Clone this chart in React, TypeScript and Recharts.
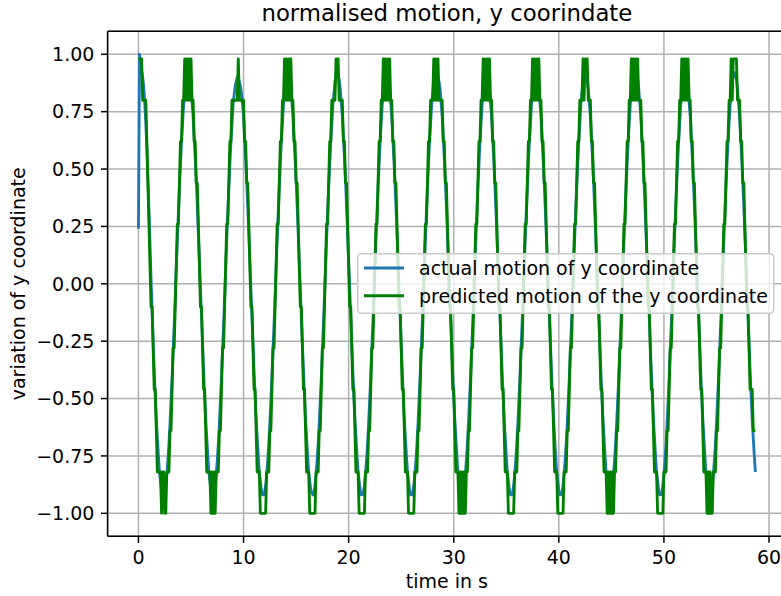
import React from "react";
import {
  LineChart,
  Line,
  XAxis,
  YAxis,
  CartesianGrid,
  Legend,
  ReferenceLine,
  Label,
} from "recharts";

const FONT = "'DejaVu Sans', 'Liberation Sans', sans-serif";

// one sample every 0.1 s, t = 0 ... 58.7 s
const SAMPLE_STEP = 0.1;

// actual (normalised) y coordinate, one line per oscillation
const ACTUAL_Y = [
  0.24, 1.0, 0.97, 0.93, 0.9, 0.86, 0.79, 0.7, 0.59, 0.46, 0.32, 0.17, 0.02, -0.12, -0.25, -0.38, -0.49, -0.59, -0.67, -0.75, -0.82,
  -0.86, -0.9, -0.92, -0.92, -0.91, -0.88, -0.83, -0.77, -0.7, -0.61, -0.51, -0.41, -0.29, -0.18, -0.06, 0.07, 0.19, 0.31, 0.42, 0.52, 0.62, 0.7, 0.78, 0.83, 0.88, 0.91,
  0.92, 0.91, 0.89, 0.85, 0.79, 0.73, 0.64, 0.55, 0.45, 0.34, 0.22, 0.1, -0.02, -0.14, -0.26, -0.38, -0.49, -0.59, -0.67, -0.75, -0.82,
  -0.86, -0.9, -0.92, -0.93, -0.91, -0.88, -0.83, -0.77, -0.7, -0.61, -0.51, -0.41, -0.29, -0.18, -0.06, 0.07, 0.19, 0.31, 0.42, 0.52, 0.62, 0.7, 0.78, 0.82, 0.86, 0.88, 0.9,
  0.9, 0.88, 0.86, 0.83, 0.79, 0.73, 0.64, 0.55, 0.45, 0.34, 0.22, 0.1, -0.02, -0.14, -0.26, -0.38, -0.49, -0.59, -0.67, -0.75, -0.82,
  -0.86, -0.9, -0.92, -0.92, -0.91, -0.88, -0.83, -0.77, -0.7, -0.61, -0.51, -0.41, -0.29, -0.18, -0.06, 0.07, 0.19, 0.31, 0.42, 0.52, 0.62, 0.7, 0.78, 0.83, 0.88, 0.91,
  0.92, 0.91, 0.89, 0.85, 0.79, 0.73, 0.64, 0.55, 0.45, 0.34, 0.22, 0.1, -0.02, -0.14, -0.26, -0.38, -0.49, -0.59, -0.67, -0.75, -0.82,
  -0.86, -0.9, -0.91, -0.92, -0.91, -0.88, -0.83, -0.77, -0.7, -0.61, -0.51, -0.41, -0.29, -0.18, -0.06, 0.07, 0.19, 0.31, 0.42, 0.52, 0.62, 0.7, 0.78, 0.83, 0.88, 0.9,
  0.91, 0.91, 0.89, 0.85, 0.79, 0.73, 0.64, 0.55, 0.45, 0.34, 0.22, 0.1, -0.02, -0.14, -0.26, -0.38, -0.49, -0.59, -0.67, -0.75, -0.82,
  -0.86, -0.9, -0.92, -0.92, -0.91, -0.88, -0.83, -0.77, -0.7, -0.61, -0.51, -0.41, -0.29, -0.18, -0.06, 0.07, 0.19, 0.31, 0.42, 0.52, 0.62, 0.7, 0.78, 0.83, 0.88, 0.91,
  0.92, 0.91, 0.89, 0.85, 0.79, 0.73, 0.64, 0.55, 0.45, 0.34, 0.22, 0.1, -0.02, -0.14, -0.26, -0.38, -0.49, -0.59, -0.67, -0.75, -0.82,
  -0.86, -0.9, -0.92, -0.92, -0.91, -0.88, -0.83, -0.77, -0.7, -0.61, -0.51, -0.41, -0.29, -0.18, -0.06, 0.07, 0.19, 0.31, 0.42, 0.52, 0.62, 0.7, 0.78, 0.83, 0.88, 0.91, 0.92,
  0.91, 0.9, 0.88, 0.85, 0.79, 0.73, 0.64, 0.55, 0.45, 0.34, 0.22, 0.1, -0.02, -0.14, -0.26, -0.38, -0.49, -0.59, -0.67, -0.75, -0.82,
  -0.86, -0.9, -0.92, -0.93, -0.91, -0.88, -0.83, -0.77, -0.7, -0.61, -0.51, -0.41, -0.29, -0.18, -0.06, 0.07, 0.19, 0.31, 0.42, 0.52, 0.62, 0.7, 0.78, 0.83, 0.88, 0.91,
  0.92, 0.91, 0.89, 0.85, 0.79, 0.73, 0.64, 0.55, 0.45, 0.34, 0.22, 0.1, -0.02, -0.14, -0.26, -0.38, -0.49, -0.59, -0.67, -0.75, -0.82,
  -0.86, -0.9, -0.92, -0.92, -0.91, -0.88, -0.83, -0.77, -0.7, -0.61, -0.51, -0.41, -0.29, -0.18, -0.06, 0.07, 0.19, 0.31, 0.42, 0.52, 0.62, 0.7, 0.78, 0.83, 0.88, 0.91,
  0.92, 0.91, 0.89, 0.85, 0.79, 0.73, 0.64, 0.55, 0.45, 0.34, 0.22, 0.1, -0.02, -0.14, -0.26, -0.38, -0.49, -0.59, -0.67, -0.75, -0.82,
  -0.86, -0.9, -0.92, -0.92, -0.91, -0.88, -0.83, -0.77, -0.7, -0.61, -0.51, -0.41, -0.29, -0.18, -0.06, 0.07, 0.19, 0.31, 0.42, 0.52, 0.62, 0.7, 0.78, 0.83, 0.88, 0.91,
  0.92, 0.91, 0.89, 0.85, 0.79, 0.73, 0.64, 0.55, 0.45, 0.34, 0.22, 0.1, -0.02, -0.14, -0.26, -0.38, -0.49, -0.59, -0.67, -0.75, -0.82,
  -0.86, -0.9, -0.92, -0.93, -0.91, -0.88, -0.83, -0.77, -0.7, -0.61, -0.51, -0.41, -0.29, -0.18, -0.06, 0.07, 0.19, 0.31, 0.42, 0.52, 0.62, 0.7, 0.78, 0.83, 0.88, 0.91, 0.92,
  0.92, 0.91, 0.89, 0.85, 0.79, 0.73, 0.64, 0.55, 0.45, 0.34, 0.22, 0.1, -0.02, -0.14, -0.26, -0.38, -0.49, -0.59, -0.67, -0.75, -0.82,
  -0.86, -0.9, -0.92, -0.92, -0.91, -0.88, -0.83, -0.77, -0.7, -0.61, -0.51, -0.41, -0.29, -0.18, -0.06, 0.07, 0.19, 0.31, 0.42, 0.52, 0.62, 0.7, 0.78, 0.83, 0.88, 0.91,
  0.92, 0.91, 0.89, 0.85, 0.79, 0.73, 0.64, 0.55, 0.45, 0.34, 0.22, 0.1, -0.02, -0.14, -0.26, -0.38, -0.49, -0.59, -0.67, -0.75, -0.82,
  -0.86, -0.9, -0.92, -0.92, -0.91, -0.88, -0.83, -0.77, -0.7, -0.61, -0.51, -0.41, -0.29, -0.18, -0.06, 0.07, 0.19, 0.31, 0.42, 0.52, 0.62, 0.7, 0.78, 0.83, 0.88, 0.91,
  0.92, 0.91, 0.89, 0.85, 0.79, 0.73, 0.64, 0.55, 0.45, 0.34, 0.22, 0.1, -0.02, -0.14, -0.26, -0.38, -0.49, -0.59, -0.67, -0.75, -0.82,
];

// predicted y coordinate (quantised prediction), same sampling
const PREDICTED_Y = [
  0.98, 0.98, 0.98, 0.98, 0.8, 0.8, 0.8, 0.8, 0.62, 0.44, 0.26, 0.08, -0.1, -0.1, -0.28, -0.46, -0.46, -0.64, -0.82, -0.82, -0.82,
  -0.82, -1.0, -0.82, -0.82, -1.0, -1.0, -0.82, -0.82, -0.82, -0.64, -0.64, -0.46, -0.28, -0.28, -0.1, 0.08, 0.26, 0.26, 0.44, 0.62, 0.62, 0.8, 0.8, 0.98, 0.8, 0.98,
  0.8, 0.98, 0.8, 0.98, 0.8, 0.8, 0.62, 0.62, 0.44, 0.44, 0.26, 0.08, -0.1, -0.1, -0.28, -0.46, -0.46, -0.64, -0.82, -0.82, -0.82,
  -0.82, -1.0, -0.82, -1.0, -0.82, -1.0, -0.82, -0.82, -0.82, -0.64, -0.64, -0.46, -0.28, -0.28, -0.1, 0.08, 0.26, 0.26, 0.44, 0.62, 0.62, 0.8, 0.8, 0.8, 0.8, 0.8, 0.8,
  0.98, 0.8, 0.8, 0.8, 0.8, 0.8, 0.62, 0.62, 0.44, 0.44, 0.26, 0.08, -0.1, -0.1, -0.28, -0.46, -0.46, -0.64, -0.82, -0.82, -0.82,
  -1.0, -1.0, -1.0, -1.0, -1.0, -1.0, -0.82, -0.82, -0.82, -0.64, -0.64, -0.46, -0.28, -0.28, -0.1, 0.08, 0.26, 0.26, 0.44, 0.62, 0.62, 0.8, 0.8, 0.98, 0.8, 0.98,
  0.8, 0.98, 0.8, 0.98, 0.8, 0.8, 0.62, 0.62, 0.44, 0.44, 0.26, 0.08, -0.1, -0.1, -0.28, -0.46, -0.46, -0.64, -0.82, -0.82, -0.82,
  -1.0, -1.0, -1.0, -1.0, -1.0, -1.0, -0.82, -0.82, -0.82, -0.64, -0.64, -0.46, -0.28, -0.28, -0.1, 0.08, 0.26, 0.26, 0.44, 0.62, 0.62, 0.8, 0.8, 0.8, 0.8, 0.98,
  0.98, 0.98, 0.8, 0.8, 0.8, 0.8, 0.62, 0.62, 0.44, 0.44, 0.26, 0.08, -0.1, -0.1, -0.28, -0.46, -0.46, -0.64, -0.82, -0.82, -0.82,
  -1.0, -1.0, -1.0, -1.0, -1.0, -1.0, -0.82, -0.82, -0.82, -0.64, -0.64, -0.46, -0.28, -0.28, -0.1, 0.08, 0.26, 0.26, 0.44, 0.62, 0.62, 0.8, 0.8, 0.98, 0.8, 0.98,
  0.8, 0.98, 0.8, 0.98, 0.8, 0.8, 0.62, 0.62, 0.44, 0.44, 0.26, 0.08, -0.1, -0.1, -0.28, -0.46, -0.46, -0.64, -0.82, -0.82, -0.82,
  -1.0, -1.0, -1.0, -1.0, -1.0, -1.0, -0.82, -0.82, -0.82, -0.64, -0.64, -0.46, -0.28, -0.28, -0.1, 0.08, 0.26, 0.26, 0.44, 0.62, 0.62, 0.8, 0.8, 0.8, 0.98, 0.8, 0.98,
  0.8, 0.98, 0.8, 0.8, 0.8, 0.8, 0.62, 0.62, 0.44, 0.44, 0.26, 0.08, -0.1, -0.1, -0.28, -0.46, -0.46, -0.64, -0.82, -0.82, -0.82,
  -1.0, -0.82, -1.0, -0.82, -1.0, -0.82, -1.0, -0.82, -0.82, -0.64, -0.64, -0.46, -0.28, -0.28, -0.1, 0.08, 0.26, 0.26, 0.44, 0.62, 0.62, 0.8, 0.8, 0.98, 0.8, 0.98,
  0.8, 0.98, 0.8, 0.98, 0.8, 0.8, 0.62, 0.62, 0.44, 0.44, 0.26, 0.08, -0.1, -0.1, -0.28, -0.46, -0.46, -0.64, -0.82, -0.82, -0.82,
  -1.0, -1.0, -1.0, -1.0, -1.0, -1.0, -0.82, -0.82, -0.82, -0.64, -0.64, -0.46, -0.28, -0.28, -0.1, 0.08, 0.26, 0.26, 0.44, 0.62, 0.62, 0.8, 0.8, 0.98, 0.8, 0.98,
  0.8, 0.98, 0.8, 0.98, 0.8, 0.8, 0.62, 0.62, 0.44, 0.44, 0.26, 0.08, -0.1, -0.1, -0.28, -0.46, -0.46, -0.64, -0.82, -0.82, -0.82,
  -1.0, -1.0, -1.0, -1.0, -1.0, -1.0, -0.82, -0.82, -0.82, -0.64, -0.64, -0.46, -0.28, -0.28, -0.1, 0.08, 0.26, 0.26, 0.44, 0.62, 0.62, 0.8, 0.8, 0.8, 0.98, 0.8,
  0.98, 0.98, 0.98, 0.8, 0.8, 0.8, 0.62, 0.62, 0.44, 0.44, 0.26, 0.08, -0.1, -0.1, -0.28, -0.46, -0.46, -0.64, -0.82, -0.82, -0.82,
  -1.0, -0.82, -1.0, -0.82, -1.0, -0.82, -1.0, -0.82, -0.82, -0.64, -0.64, -0.46, -0.28, -0.28, -0.1, 0.08, 0.26, 0.26, 0.44, 0.62, 0.62, 0.8, 0.8, 0.98, 0.8, 0.98, 0.8,
  0.98, 0.8, 0.98, 0.8, 0.8, 0.8, 0.62, 0.62, 0.44, 0.44, 0.26, 0.08, -0.1, -0.1, -0.28, -0.46, -0.46, -0.64, -0.82, -0.82, -0.82,
  -1.0, -1.0, -1.0, -1.0, -1.0, -1.0, -0.82, -0.82, -0.82, -0.64, -0.64, -0.46, -0.28, -0.28, -0.1, 0.08, 0.26, 0.26, 0.44, 0.62, 0.62, 0.8, 0.8, 0.98, 0.8, 0.98,
  0.8, 0.98, 0.8, 0.98, 0.8, 0.8, 0.62, 0.62, 0.44, 0.44, 0.26, 0.08, -0.1, -0.1, -0.28, -0.46, -0.46, -0.64, -0.82, -0.82, -0.82,
  -1.0, -0.82, -1.0, -0.82, -1.0, -1.0, -0.82, -0.82, -0.82, -0.64, -0.64, -0.46, -0.28, -0.28, -0.1, 0.08, 0.26, 0.26, 0.44, 0.62, 0.62, 0.8, 0.8, 0.98, 0.8, 0.98,
  0.98, 0.98, 0.98, 0.8, 0.8, 0.8, 0.62, 0.62, 0.44, 0.44, 0.26, 0.08, -0.1, -0.1, -0.28, -0.46, -0.46, -0.46, -0.64, -0.64, -0.64,
];

const X_TICKS = [0, 10, 20, 30, 40, 50, 60];
const Y_TICKS = [-1, -0.75, -0.5, -0.25, 0, 0.25, 0.5, 0.75, 1];

const SERIES = [
  { key: "actual", name: "actual motion of y coordinate", color: "#1f77b4" },
  { key: "predicted", name: "predicted motion of the y coordinate", color: "#008000" },
];

const rows = ACTUAL_Y.map((y, i) => ({
  t: Math.round(i * SAMPLE_STEP * 10) / 10,
  actual: y,
  predicted: PREDICTED_Y[i],
}));

const fmtY = (v: number) => (v < 0 ? "\u2212" : "") + Math.abs(v).toFixed(2);

function LegendBox() {
  return (
    <svg width={420} height={64} style={{ display: "block", overflow: "visible" }}>
      <rect
        x={0.75}
        y={0.75}
        width={416}
        height={59.5}
        rx={3.8}
        fill="rgba(255,255,255,0.8)"
        stroke="#cccccc"
        strokeWidth={1.5}
      />
      {SERIES.map((s, i) => (
        <g key={s.key}>
          <line x1={7} x2={47} y1={15 + i * 27.7} y2={15 + i * 27.7} stroke={s.color} strokeWidth={2.85} />
          <text x={62} y={21.8 + i * 27.7} fontSize={19} fontFamily={FONT} fill="#000">
            {s.name}
          </text>
        </g>
      ))}
    </svg>
  );
}

export default function App() {
  const tickStyle = { fontSize: 19, fill: "#000", fontFamily: FONT };
  return (
    <div
      style={{
        position: "absolute",
        left: 0,
        top: 0,
        width: 781,
        height: 596,
        overflow: "hidden",
        background: "#fff",
        fontFamily: FONT,
      }}
    >
      <div
        style={{
          position: "absolute",
          left: 146.9,
          top: 1.7,
          width: 600,
          textAlign: "center",
          fontSize: 22.8,
          lineHeight: "22.8px",
          color: "#000",
          whiteSpace: "nowrap",
          zIndex: 2,
        }}
      >
        normalised motion, y coorindate
      </div>
      <LineChart
        width={800}
        height={596}
        data={rows}
        margin={{ top: 31.35, right: 13.8, bottom: 19.75, left: 0 }}
      >
        <CartesianGrid stroke="#b0b0b0" strokeWidth={1.5} verticalPoints={undefined} />
        <XAxis
          dataKey="t"
          type="number"
          domain={[-2.935, 61.635]}
          ticks={X_TICKS}
          allowDataOverflow
          height={40}
          tickSize={6.6}
          tickMargin={7.6}
          tick={tickStyle}
          tickLine={{ stroke: "#000", strokeWidth: 1.5 }}
          axisLine={{ stroke: "#000", strokeWidth: 1.5 }}
          interval={0}
        >
          <Label
            content={() => (
              <text x={446.9} y={588} textAnchor="middle" fontSize={19} fontFamily={FONT} fill="#000">
                time in s
              </text>
            )}
          />
        </XAxis>
        <YAxis
          type="number"
          domain={[-1.1, 1.1]}
          ticks={Y_TICKS}
          allowDataOverflow
          width={107.6}
          tickSize={6.6}
          tickMargin={6.6}
          tick={tickStyle}
          tickFormatter={fmtY}
          tickLine={{ stroke: "#000", strokeWidth: 1.5 }}
          axisLine={{ stroke: "#000", strokeWidth: 1.5 }}
          interval={0}
        >
          <Label
            content={() => (
              <text
                x={25}
                y={283.8}
                transform="rotate(-90, 25, 283.8)"
                textAnchor="middle"
                fontSize={19}
                fontFamily={FONT}
                fill="#000"
              >
                variation of y coordinate
              </text>
            )}
          />
        </YAxis>
        <ReferenceLine y={1.1} stroke="#000" strokeWidth={1.5} />
        {SERIES.map((s) => (
          <Line
            key={s.key}
            dataKey={s.key}
            name={s.name}
            type="linear"
            stroke={s.color}
            strokeWidth={2.85}
            strokeLinejoin="round"
            dot={false}
            activeDot={false}
            isAnimationActive={false}
          />
        ))}
        <Legend
          layout="horizontal"
          align="center"
          verticalAlign="middle"
          wrapperStyle={{ left: 357, top: 253, width: 420, height: 64 }}
          content={() => <LegendBox />}
        />
      </LineChart>
    </div>
  );
}
